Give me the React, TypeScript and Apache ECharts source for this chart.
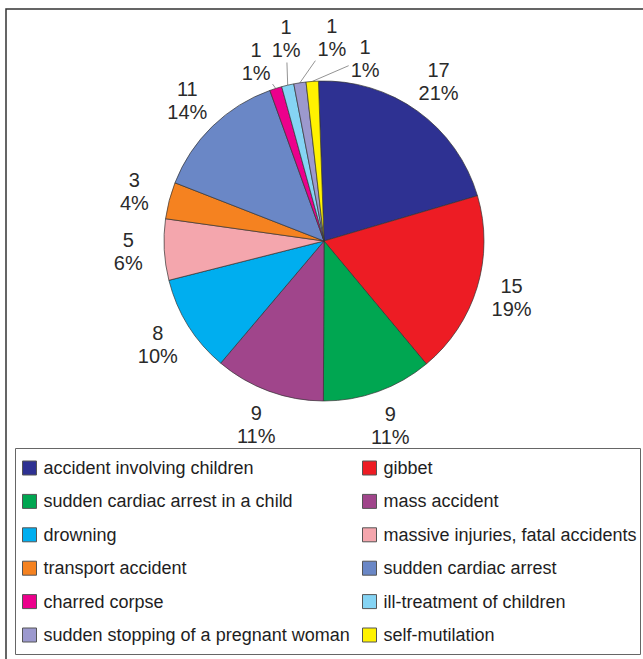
import React, { useEffect, useRef } from "react";
import * as echarts from "echarts";

// Cases by category, clockwise from the top of the pie
const categories: string[] = [
  "accident involving children",
  "gibbet",
  "sudden cardiac arrest in a child",
  "mass accident",
  "drowning",
  "massive injuries, fatal accidents",
  "transport accident",
  "sudden cardiac arrest",
  "charred corpse",
  "ill-treatment of children",
  "sudden stopping of a pregnant woman",
  "self-mutilation",
];
const counts: number[] = [17, 15, 9, 9, 8, 5, 3, 11, 1, 1, 1, 1];
const sliceColors: string[] = [
  "#2E3192",
  "#ED1C24",
  "#00A651",
  "#A0458B",
  "#00AEEF",
  "#F4A6AD",
  "#F58220",
  "#6A87C6",
  "#EC008C",
  "#85D4F4",
  "#9C99CE",
  "#FFF200",
];

const W = 643;
const H = 659;
const CX = 324;
const CY = 241;
const R = 160;
const START = 92;
const LABEL_DIST = 196;
const FONT = '"Liberation Sans", Arial, Helvetica, sans-serif';
// thin slices at the top get their labels fanned out: [angle deg, distance]
const fanned: Record<number, [number, number]> = {
  8: [110.7, 192],
  9: [100.6, 206],
  10: [87.8, 204],
  11: [77.3, 187],
};

const total = counts.reduce((a, b) => a + b, 0);
const midAngle = (i: number) => {
  let cum = 0;
  for (let k = 0; k < i; k++) cum += counts[k];
  return START - ((cum + counts[i] / 2) / total) * 360;
};

export default function App() {
  const ref = useRef<HTMLDivElement>(null);

  useEffect(() => {
    if (!ref.current) return;
    const chart = echarts.init(ref.current, undefined, { renderer: "svg" });

    const legendBase = {
      orient: "vertical",
      top: 459,
      padding: 0,
      itemWidth: 14,
      itemHeight: 14,
      itemGap: 15.4,
      icon: "rect",
      selectedMode: false,
      itemStyle: { borderColor: "#555", borderWidth: 1 },
      textStyle: {
        fontSize: 18,
        lineHeight: 18,
        color: "#1e1e1e",
        fontFamily: FONT,
        padding: [0, 0, 0, 2],
      },
    };

    chart.setOption({
      animation: false,
      backgroundColor: "#ffffff",
      textStyle: { fontFamily: FONT },
      graphic: [
        {
          type: "rect",
          shape: { x: 6, y: 9, width: W, height: H },
          style: { fill: "none", stroke: "#333", lineWidth: 1.5 },
          silent: true,
        },
        {
          type: "rect",
          shape: { x: 15.5, y: 448.5, width: 625, height: 206 },
          style: { fill: "none", stroke: "#666", lineWidth: 1 },
          silent: true,
        },
      ],
      legend: [
        {
          ...legendBase,
          left: 22,
          data: categories.filter((_, i) => i % 2 === 0),
        },
        {
          ...legendBase,
          left: 362,
          data: categories.filter((_, i) => i % 2 === 1),
        },
      ],
      series: [
        {
          type: "pie",
          center: [CX, CY],
          radius: R,
          startAngle: START,
          clockwise: true,
          avoidLabelOverlap: false,
          silent: true,
          emphasis: { disabled: true },
          itemStyle: { borderColor: "#333", borderWidth: 0.7 },
          label: {
            show: true,
            position: "outside",
            fontSize: 20,
            lineHeight: 23,
            color: "#2a2a2a",
            fontFamily: FONT,
            align: "center",
            formatter: (p: any) =>
              `${p.value}\n${Math.round((p.value / total) * 100)}%`,
          },
          labelLine: {
            show: true,
            length: 10,
            length2: 10,
            lineStyle: { color: "#777", width: 0.8 },
          },
          labelLayout: (p: any) => {
            const i = p.dataIndex;
            const [ang, d] = fanned[i] ?? [midAngle(i), LABEL_DIST];
            const rad = (ang * Math.PI) / 180;
            const x = CX + d * Math.cos(rad);
            const y = CY - d * Math.sin(rad);
            const out: any = { x, y, align: "center", verticalAlign: "middle" };
            if (fanned[i]) {
              const m = (midAngle(i) * Math.PI) / 180;
              const sx = CX + R * Math.cos(m);
              const sy = CY - R * Math.sin(m);
              const hw = p.labelRect.width / 2 + 2;
              const hh = p.labelRect.height / 2 + 1;
              const dx = sx - x;
              const dy = sy - y;
              const t = Math.min(
                dx === 0 ? Infinity : Math.abs(hw / dx),
                dy === 0 ? Infinity : Math.abs(hh / dy)
              );
              out.labelLinePoints = [
                [sx, sy],
                [x + dx * t, y + dy * t],
              ];
            }
            return out;
          },
          data: categories.map((name, i) => ({
            name,
            value: counts[i],
            itemStyle: { color: sliceColors[i] },
            labelLine: { show: fanned[i] !== undefined },
          })),
        },
      ],
    });

    return () => chart.dispose();
  }, []);

  return (
    <div
      ref={ref}
      style={{ position: "absolute", left: 0, top: 0, width: W, height: H, background: "#fff" }}
    />
  );
}
